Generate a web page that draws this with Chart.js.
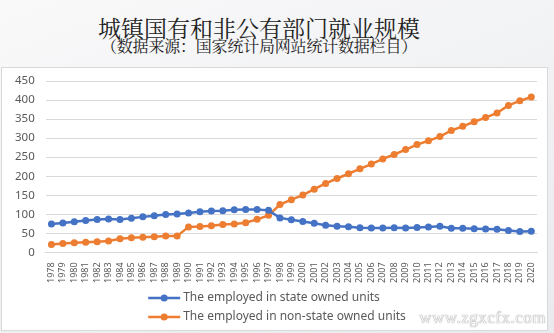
<!DOCTYPE html>
<html>
<head>
<meta charset="utf-8">
<script src="https://cdn.jsdelivr.net/npm/chart.js@4"></script>
<style>
  html, body { margin: 0; padding: 0; }
  body { width: 554px; height: 333px; overflow: hidden; position: relative;
         background: linear-gradient(160deg, #f9f9fa 0%, #eff0f2 60%, #e9eaed 100%); }
  #panel { position: absolute; left: 1px; top: 67px; width: 545px; height: 262px;
           background: #fff; border: 1px solid #d9d9d9; }
  #wrap { position: absolute; left: 0; top: 0; width: 554px; height: 333px; }
  .ttl { position: absolute; left: 0; width: 518px; text-align: center; color: #222;
         font-family: "Noto Serif CJK SC", "Noto Sans CJK SC"; white-space: nowrap; }
  #t1 { top: 13px; font-size: 23px; line-height: 30px; }
  #t2 { top: 36px; font-size: 16px; line-height: 20px; letter-spacing: -0.2px; }
  #mark { position: absolute; right: 8px; top: 308px; font: 17px "Liberation Serif", serif;
          color: #f4f4f4; text-shadow: 0 0 1px #999, 0 0 1px #999; letter-spacing: 0.5px; }
</style>
</head>
<body>
<div id="panel"></div>
<div class="ttl" id="t1">城镇国有和非公有部门就业规模</div>
<div class="ttl" id="t2">（数据来源：国家统计局网站统计数据栏目）</div>
<div id="wrap"><canvas id="chart"></canvas></div>
<div id="mark">www.zgxcfx.com</div>
<script>
// Jahre (Kategorien)
const years = [];
for (let y = 1978; y <= 2020; y++) years.push(String(y));

// Beschaeftigte in staatlichen Einheiten (Mio.)
const stateOwned = [74.5, 76.9, 80.2, 83.7, 86.3, 87.7, 86.4, 89.9, 93.3, 96.5,
  99.8, 101.1, 103.5, 106.6, 108.9, 109.2, 112.1, 112.6, 112.4, 110.4,
  90.6, 85.7, 81.0, 76.4, 71.6, 68.8, 67.1, 64.9, 64.3, 64.2,
  64.5, 64.2, 65.2, 67.0, 68.4, 63.7, 63.1, 62.1, 61.7, 60.6,
  57.4, 54.7, 55.6];

// Beschaeftigte in nicht-staatlichen Einheiten (Mio.)
const nonStateOwned = [20.6, 23.1, 25.1, 26.8, 28.0, 29.8, 35.9, 38.2, 39.6, 41.3,
  42.8, 42.8, 67.0, 68.0, 69.7, 73.4, 74.4, 77.8, 86.8, 97.4,
  125.6, 138.4, 150.5, 166, 181, 194, 206.5, 219.5, 232, 245.5,
  257, 270, 283, 293, 304, 320, 331, 343, 354, 366,
  386, 398, 408];

const seriesNames = ['The employed in state owned units', 'The employed in non-state owned units'];

const blue = '#4472c4';
const orange = '#ed7d31';
const grey = '#595959';

// Legende untereinander, zentrierter Block
const stackedLegend = {
  id: 'stackedLegend',
  afterDraw(chart) {
    const ctx = chart.ctx;
    ctx.save();
    ctx.font = '12px "Noto Sans"';
    const widths = chart.data.datasets.map(d => ctx.measureText(d.label).width);
    const blockW = 35 + Math.max(...widths);
    const x0 = (chart.width - blockW) / 2;
    chart.data.datasets.forEach((d, i) => {
      const y = 298 + i * 19;
      ctx.strokeStyle = d.borderColor;
      ctx.lineWidth = 2.5;
      ctx.beginPath();
      ctx.moveTo(x0, y);
      ctx.lineTo(x0 + 32, y);
      ctx.stroke();
      ctx.fillStyle = d.borderColor;
      ctx.beginPath();
      ctx.arc(x0 + 16, y, 3.5, 0, Math.PI * 2);
      ctx.fill();
      ctx.fillStyle = grey;
      ctx.textBaseline = 'middle';
      ctx.textAlign = 'left';
      ctx.fillText(d.label, x0 + 35, y);
    });
    ctx.restore();
  }
};

new Chart(document.getElementById('chart'), {
  type: 'line',
  data: {
    labels: years,
    datasets: [{
      label: seriesNames[0],
      data: stateOwned,
      borderColor: blue,
      backgroundColor: blue,
      borderWidth: 2.5,
      pointRadius: 3.5,
      pointBorderWidth: 0,
      tension: 0
    }, {
      label: seriesNames[1],
      data: nonStateOwned,
      borderColor: orange,
      backgroundColor: orange,
      borderWidth: 2.5,
      pointRadius: 3.5,
      pointBorderWidth: 0,
      tension: 0
    }]
  },
  options: {
    responsive: true,
    maintainAspectRatio: false,
    animation: false,
    layout: { padding: { left: 4, right: 17, top: 81, bottom: 48 } },
    plugins: {
      legend: { display: false },
      tooltip: { enabled: false }
    },
    scales: {
      x: {
        offset: true,
        grid: { display: false },
        border: { color: '#d9d9d9' },
        ticks: {
          color: grey, autoSkip: false, maxRotation: 90, minRotation: 90,
          padding: 2, font: { family: '"Noto Sans"', size: 9 }
        }
      },
      y: {
        min: 0,
        max: 450,
        grid: { color: '#d9d9d9', drawTicks: false },
        border: { display: false },
        ticks: { stepSize: 50, color: grey, padding: 11, font: { family: '"Noto Sans"', size: 11.5 } }
      }
    }
  },
  plugins: [stackedLegend]
});
</script>
</body>
</html>
